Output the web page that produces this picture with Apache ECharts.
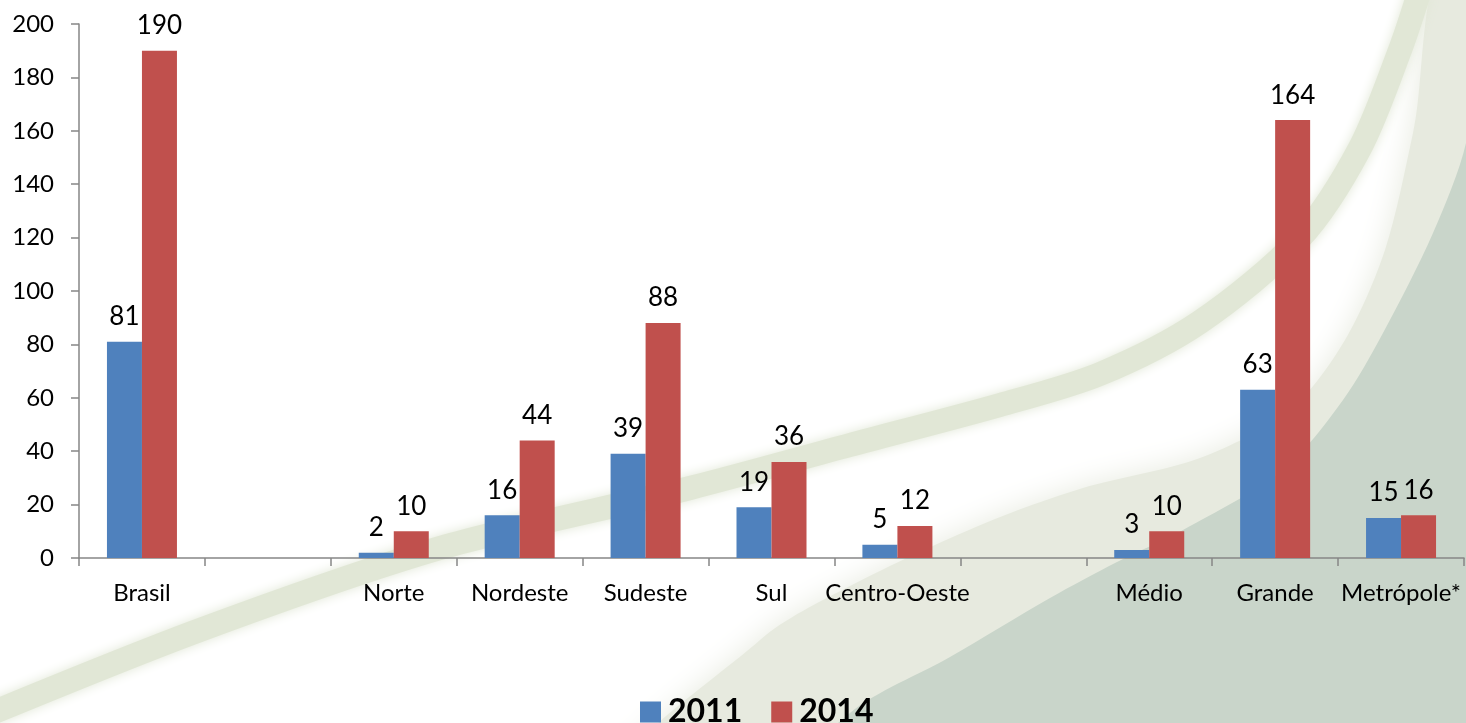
<!DOCTYPE html>
<html>
<head>
<meta charset="utf-8">
<script src="https://cdn.jsdelivr.net/npm/echarts@6/dist/echarts.min.js"></script>
<style>
  html, body { margin: 0; padding: 0; background: #fff; }
  #chart { width: 1466px; height: 723px; }
</style>
</head>
<body>
<div id="chart"></div>
<script>
// categories (blank slots are the gaps between groups)
const categories = ['Brasil', '', 'Norte', 'Nordeste', 'Sudeste', 'Sul', 'Centro-Oeste', '', 'Médio', 'Grande', 'Metrópole*'];
const values2011 = [81, null, 2, 16, 39, 19, 5, null, 3, 63, 15];
const values2014 = [190, null, 10, 44, 88, 36, 12, null, 10, 164, 16];
const seriesNames = ['2011', '2014'];
const yTicks = { min: 0, max: 200, interval: 20 };

const chart = echarts.init(document.getElementById('chart'), null, { renderer: 'canvas' });

const font = 'Lato, "Open Sans", sans-serif';

// decorative background swooshes (slide template)
const background = [
  {
    type: 'polygon', z: -30, silent: true,
    shape: {
      smooth: 0.3,
      points: [[1452, -60], [1413, 133], [1385, 250], [1345, 340], [1290, 410], [1200, 458], [1083, 488], [983, 524], [850, 586], [760, 640], [620, 790], [1650, 950], [1650, -150]]
    },
    style: { fill: '#e7eadf', shadowBlur: 30, shadowColor: '#e7eadf' }
  },
  {
    type: 'polygon', z: -20, silent: true,
    shape: {
      smooth: 0.3,
      points: [[1500, -60], [1466, 143], [1433, 233], [1383, 333], [1343, 400], [1283, 470], [1183, 530], [1117, 562], [1050, 598], [950, 657], [850, 713], [790, 790], [1650, 950], [1650, -150]]
    },
    style: { fill: '#c9d5ca' }
  },
  {
    type: 'polyline', z: -10, silent: true,
    shape: {
      smooth: 0.3,
      points: [[-30, 722], [200, 630], [440, 548], [690, 488], [850, 445], [1000, 405], [1100, 374], [1200, 322], [1300, 238], [1360, 148], [1400, 50], [1420, -10]]
    },
    style: { stroke: '#e1e7d6', lineWidth: 24, fill: null, shadowBlur: 12, shadowColor: '#e1e7d6' }
  }
];

const option = {
  backgroundColor: '#ffffff',
  animation: false,
  graphic: background,
  grid: {
    left: 79,
    right: 2,
    top: 24,
    bottom: 165,
    outerBoundsMode: 'none'
  },
  legend: {
    data: seriesNames,
    left: 635,
    top: 691,
    icon: 'rect',
    itemWidth: 21,
    itemHeight: 21,
    itemGap: 29,
    textStyle: {
      fontFamily: font,
      fontWeight: 'bold',
      fontSize: 32,
      color: '#000',
      padding: [0, 0, 0, 2]
    }
  },
  xAxis: {
    type: 'category',
    data: categories,
    axisLine: { lineStyle: { color: '#868686', width: 1.5 } },
    axisTick: { show: true, length: 8, lineStyle: { color: '#868686', width: 1.5 } },
    axisLabel: {
      interval: 0,
      margin: 23,
      fontFamily: font,
      fontSize: 24,
      color: '#000'
    }
  },
  yAxis: {
    type: 'value',
    min: yTicks.min,
    max: yTicks.max,
    interval: yTicks.interval,
    splitLine: { show: false },
    axisLine: { show: true, lineStyle: { color: '#868686', width: 1.5 } },
    axisTick: { show: true, length: 8, lineStyle: { color: '#868686', width: 1.5 } },
    axisLabel: {
      margin: 25,
      fontFamily: font,
      fontSize: 24,
      color: '#000'
    }
  },
  series: [
    {
      name: seriesNames[0],
      type: 'bar',
      data: values2011,
      barWidth: 35,
      barGap: '0%',
      itemStyle: { color: '#4f81bd' },
      label: {
        show: true,
        position: 'top',
        distance: 12,
        fontFamily: font,
        fontSize: 26,
        color: '#000'
      }
    },
    {
      name: seriesNames[1],
      type: 'bar',
      data: values2014,
      barWidth: 35,
      barGap: '0%',
      itemStyle: { color: '#c0504d' },
      label: {
        show: true,
        position: 'top',
        distance: 12,
        fontFamily: font,
        fontSize: 26,
        color: '#000'
      }
    }
  ]
};

chart.setOption(option);
</script>
</body>
</html>
